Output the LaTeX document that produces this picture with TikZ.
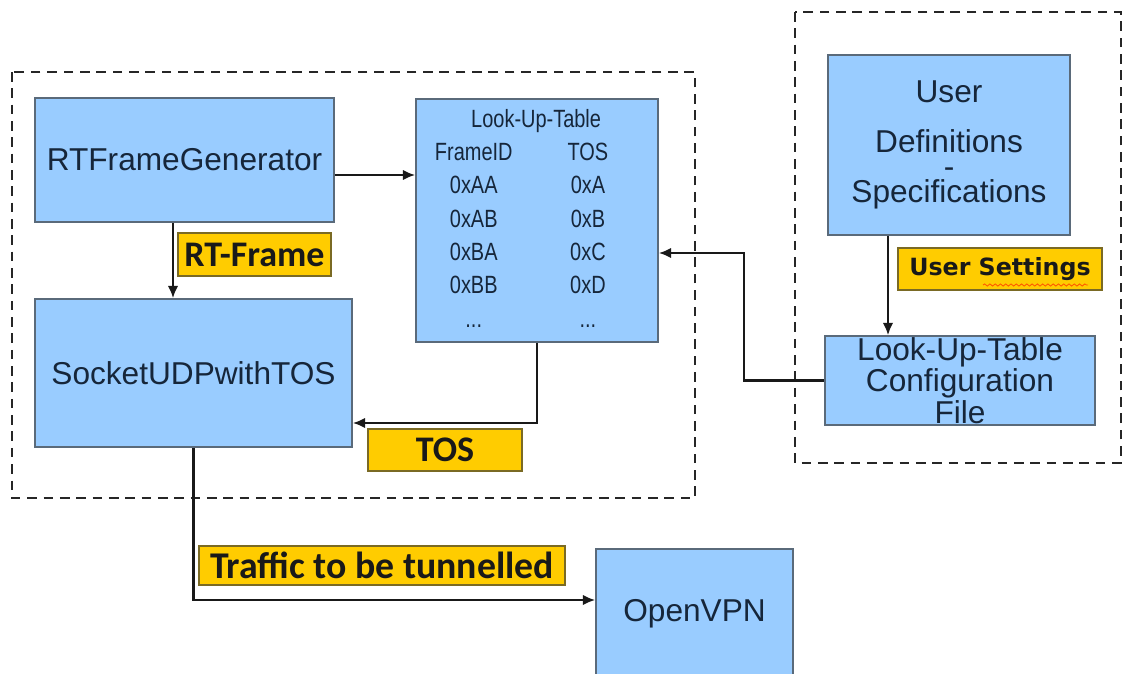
\documentclass[tikz,border=0pt]{standalone}
\usepackage{fontspec}
\usepackage{array}
\setmainfont{Liberation Sans}
\newfontfamily\lutfont[FakeStretch=0.8]{Liberation Sans}
\newfontfamily\tagfont{Carlito}
\newfontfamily\notefont{DejaVu Sans}
\usetikzlibrary{arrows.meta,decorations.pathmorphing}
\definecolor{boxblue}{HTML}{99CCFF}
\definecolor{boxline}{HTML}{5A6A7A}
\definecolor{boxtext}{HTML}{16263A}
\definecolor{tagyellow}{HTML}{FFCC00}
\definecolor{tagline}{HTML}{7A6A24}
\begin{document}
\begin{tikzpicture}[
  x=0.02cm, y=-0.02cm,
  block/.style={draw=boxline, line width=0.9pt, fill=boxblue, text=boxtext,
    font=\fontsize{18}{14.2}\selectfont, align=center, inner sep=0pt},
  tag/.style={draw=tagline, line width=0.8pt, fill=tagyellow, text=black!90,
    font=\tagfont\bfseries\fontsize{20.5}{24}\selectfont, inner sep=0pt},
  flow/.style={-{Latex[length=7pt,width=6pt]}, line width=1.3pt, draw=black!90},
  group/.style={draw=black!85, line width=1.6pt, dash pattern=on 5.5pt off 3.8pt}
]
  \useasboundingbox (0,0) rectangle (1124,673);
  \clip (0,0) rectangle (1124,673);
  \draw[group] (12,72) rectangle (695,498);
  \draw[group] (795,12) rectangle (1121,463);

  \node[block, minimum width=5.98cm, minimum height=2.48cm] (gen) at (184.5,160) {RTFrameGenerator};
  \node[block, minimum width=6.34cm, minimum height=2.96cm] (sock) at (193.5,373) {SocketUDPwithTOS};
  \node[block, minimum width=4.84cm, minimum height=4.86cm,
    font=\lutfont\fontsize{14.2}{19}\selectfont] (lut) at (537,220.5)
    {\begin{tabular}{@{}wc{50pt}@{\hspace{15pt}}wc{50pt}@{\hspace{7pt}}}
      \multicolumn{2}{c@{\hspace{7pt}}}{Look-Up-Table}\\
      FrameID & TOS\\
      0xAA & 0xA\\
      0xAB & 0xB\\
      0xBA & 0xC\\
      0xBB & 0xD\\
      ... & ...
    \end{tabular}};
  \node[block, minimum width=4.84cm, minimum height=3.6cm] (udef) at (949,145)
    {User\\[14.2pt]Definitions\\-\\Specifications};
  \node[block, minimum width=5.4cm, minimum height=1.78cm] (cfg) at (960,380.5)
    {Look-Up-Table\\Configuration\\File};
  \node[block, minimum width=3.94cm, minimum height=2.6cm] (vpn) at (694.5,614) {OpenVPN};

  \node[tag, minimum width=3.06cm, minimum height=0.86cm] (rtf) at (254.5,254.5) {RT-Frame};
  \node[tag, minimum width=3.08cm, minimum height=0.84cm] (tos) at (445,450) {TOS};
  \node[tag, minimum width=7.32cm, minimum height=0.78cm,
    font=\tagfont\bfseries\fontsize{21.5}{24}\selectfont] (traffic) at (382,565.5) {Traffic to be tunnelled};
  \node[tag, minimum width=4.08cm, minimum height=0.84cm,
    font=\notefont\bfseries\fontsize{13.5}{18}\selectfont] (usr) at (1000,269) {User Settings};
  \draw[draw=orange!70!red, line width=0.5pt, decorate,
    decoration={snake, amplitude=0.6pt, segment length=3pt}]
    ([xshift=-0.34cm,yshift=-0.32cm]usr.center) -- ([xshift=1.76cm,yshift=-0.32cm]usr.center);

  \draw[flow] ([yshift=-0.3cm]gen.east) -- ([yshift=-0.3cm]gen.east -| lut.west);
  \draw[flow] ([xshift=-0.23cm]gen.south) -- ([xshift=-0.23cm]gen.south |- sock.north);
  \draw[flow] (lut.south) |- ([yshift=-1cm]sock.east);
  \draw[flow] (cfg.west) -- ++(-80,0) |- ([yshift=-0.65cm]lut.east);
  \draw[flow] ([xshift=-1.22cm]udef.south) -- ([xshift=-1.22cm]udef.south |- cfg.north);
  \draw[flow] (sock.south) |- ([yshift=0.28cm]vpn.west);
\end{tikzpicture}
\end{document}
